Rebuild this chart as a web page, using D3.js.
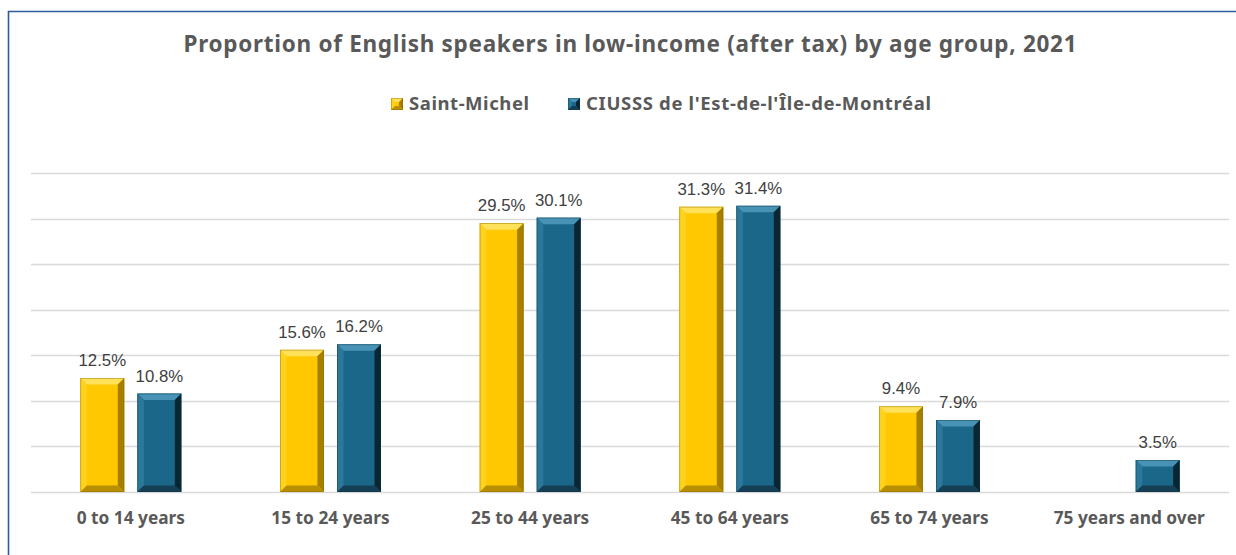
<!DOCTYPE html>
<html>
<head>
<meta charset="utf-8">
<script src="https://cdn.jsdelivr.net/npm/d3@7"></script>
<style>
  html, body { margin: 0; padding: 0; background: #fff; }
  svg { display: block; }
</style>
</head>
<body>
<svg id="chart" width="1236" height="555"></svg>
<script>
// Age groups and the two series (percent of English speakers in low income, after tax)
const categories = ["0 to 14 years", "15 to 24 years", "25 to 44 years", "45 to 64 years", "65 to 74 years", "75 years and over"];
const seriesNames = ["Saint-Michel", "CIUSSS de l'Est-de-l'Île-de-Montréal"];
const saintMichel = [12.5, 15.6, 29.5, 31.3, 9.4, null];
const ciusss = [10.8, 16.2, 30.1, 31.4, 7.9, 3.5];
const yTicks = [0, 5, 10, 15, 20, 25, 30, 35];
const title = "Proportion of English speakers in low-income (after tax) by age group, 2021";

const seriesValues = [saintMichel, ciusss];

// Bevel palettes: face, top, left, right, bottom, edge
const palettes = [
  { face: "#FFC800", top: "#FFE25A", left: "#FFD21E", right: "#A67E00", bottom: "#B88F00", edge: "#8A6A00" },
  { face: "#1B6789", top: "#4892B5", left: "#2B789B", right: "#0A2633", bottom: "#143F54", edge: "#0E3446" }
];

const svg = d3.select("#chart");
const W = 1236, H = 555;
const fontSans = "'Noto Sans', 'Open Sans', sans-serif";

// Outer chart frame (top and left edges visible)
svg.append("path")
  .attr("d", `M8.5,${H} L8.5,11.5 L${W},11.5`)
  .attr("fill", "none")
  .attr("stroke", "#2E5C9A")
  .attr("stroke-width", 1.6);

// Title
svg.append("text")
  .attr("x", 630)
  .attr("y", 52)
  .attr("text-anchor", "middle")
  .attr("font-family", fontSans)
  .attr("font-weight", 700)
  .attr("font-size", 22.5)
  .attr("textLength", 893)
  .attr("lengthAdjust", "spacing")
  .attr("fill", "#595959")
  .text(title);

const x0 = d3.scaleBand().domain(categories).range([31, 1229]).padding(0);
const x1 = d3.scaleBand().domain(seriesNames).range([-50.5, 50.5]).paddingInner(0.23).paddingOuter(0);
const y = d3.scaleLinear().domain([0, 35]).range([492, 173]);

// Gridlines
svg.append("g")
  .selectAll("line")
  .data(yTicks)
  .join("line")
  .attr("x1", 31).attr("x2", 1229)
  .attr("y1", d => Math.round(y(d)) + 0.5)
  .attr("y2", d => Math.round(y(d)) + 0.5)
  .attr("stroke", "#D9D9D9")
  .attr("stroke-width", 1.5);

// Bevelled bar drawing
function bevelBar(g, x, yTop, w, h, p, size) {
  const b = Math.min(size, h / 2, w / 2);
  const x2 = x + w, y2 = yTop + h;
  const pts = a => a.map(q => q.join(",")).join(" ");
  g.append("rect").attr("x", x).attr("y", yTop).attr("width", w).attr("height", h).attr("fill", p.face);
  g.append("polygon").attr("points", pts([[x, yTop], [x2, yTop], [x2 - b, yTop + b], [x + b, yTop + b]])).attr("fill", p.top);
  g.append("polygon").attr("points", pts([[x, yTop], [x + b, yTop + b], [x + b, y2 - b], [x, y2]])).attr("fill", p.left);
  g.append("polygon").attr("points", pts([[x2, yTop], [x2, y2], [x2 - b, y2 - b], [x2 - b, yTop + b]])).attr("fill", p.right);
  g.append("polygon").attr("points", pts([[x, y2], [x + b, y2 - b], [x2 - b, y2 - b], [x2, y2]])).attr("fill", p.bottom);
  g.append("rect").attr("x", x + 0.4).attr("y", yTop + 0.4).attr("width", w - 0.8).attr("height", h - 0.8)
    .attr("fill", "none").attr("stroke", p.edge).attr("stroke-width", 0.8).attr("stroke-opacity", 0.5);
}

const bars = svg.append("g");
categories.forEach((cat, i) => {
  seriesNames.forEach((s, j) => {
    const v = seriesValues[j][i];
    if (v == null) return;
    const bx = x0(cat) + x0.bandwidth() / 2 + x1(s);
    const g = bars.append("g");
    bevelBar(g, bx, y(v), x1.bandwidth(), y(0) - y(v), palettes[j], 6.5);
    svg.append("text")
      .attr("x", bx + x1.bandwidth() / 2)
      .attr("y", y(v) - 12)
      .attr("text-anchor", "middle")
      .attr("font-family", "'Liberation Sans', Arial, sans-serif")
      .attr("font-size", 16.8)
      .attr("fill", "#404040")
      .text(v.toFixed(1) + "%");
  });
});

// Category axis labels
svg.append("g")
  .selectAll("text")
  .data(categories)
  .join("text")
  .attr("x", d => x0(d) + x0.bandwidth() / 2)
  .attr("y", 524)
  .attr("text-anchor", "middle")
  .attr("font-family", fontSans)
  .attr("font-weight", 700)
  .attr("font-size", 17.3)
  .attr("fill", "#595959")
  .text(d => d);

// Legend
const legendX = [391, 568];
const legendLen = [120, 345];
seriesNames.forEach((s, j) => {
  const g = svg.append("g");
  bevelBar(g, legendX[j], 98, 12, 12, palettes[j], 4);
  svg.append("text")
    .attr("x", legendX[j] + 18)
    .attr("y", 110)
    .attr("font-family", fontSans)
    .attr("font-weight", 700)
    .attr("font-size", 18.5)
    .attr("textLength", legendLen[j])
    .attr("lengthAdjust", "spacing")
    .attr("fill", "#595959")
    .text(s);
});
</script>
</body>
</html>
